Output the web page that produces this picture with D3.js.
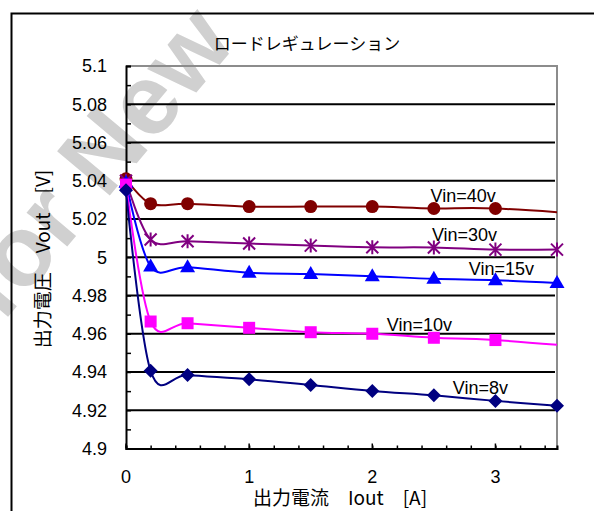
<!DOCTYPE html>
<html>
<head>
<meta charset="utf-8">
<script src="https://cdn.jsdelivr.net/npm/d3@7"></script>
<style>
  html, body { margin: 0; padding: 0; background: #fff; }
  svg { display: block; }
  text { font-family: "Liberation Sans", Arial, sans-serif; }
  .jp { font-family: "Noto Sans CJK JP", "Noto Sans", sans-serif; }
</style>
</head>
<body>
<div id="chart"></div>
<script>
// load current [A]
const currents = [0, 0.2, 0.5, 1, 1.5, 2, 2.5, 3, 3.5];
const currentsWide = [0, 0.2, 0.5, 1, 1.5, 2, 2.5, 3, 4];

// output voltage [V] per input voltage
const vin40 = [5.041, 5.028, 5.028, 5.0265, 5.0265, 5.0265, 5.0255, 5.0255, 5.0213];
const vin30 = [5.040, 5.0093, 5.0084, 5.0072, 5.0061, 5.0052, 5.0051, 5.004, 5.004];
const vin15 = [5.039, 4.9952, 4.9948, 4.9919, 4.9912, 4.9901, 4.9887, 4.988, 4.9866];
const vin10 = [5.038, 4.9664, 4.9655, 4.9631, 4.9608, 4.960, 4.9579, 4.9567, 4.9515];
const vin8 = [5.035, 4.9406, 4.9384, 4.9362, 4.9332, 4.9301, 4.9278, 4.9249, 4.9223];

const seriesNames = ['Vin=40v', 'Vin=30v', 'Vin=15v', 'Vin=10v', 'Vin=8v'];

const yTicks = [4.9, 4.92, 4.94, 4.96, 4.98, 5, 5.02, 5.04, 5.06, 5.08, 5.1];
const yTickLabels = ['4.9', '4.92', '4.94', '4.96', '4.98', '5', '5.02', '5.04', '5.06', '5.08', '5.1'];
const xTicks = [0, 1, 2, 3];
const xTickLabels = ['0', '1', '2', '3'];

const title = 'ロードレギュレーション';
const xTitle = '出力電流　Iout　[A]';
const yTitle = '出力電圧　Vout　[V]';

const W = 594, H = 511;
const svg = d3.select('#chart').append('svg').attr('width', W).attr('height', H);

// watermark from the source image
svg.append('text')
  .attr('transform', 'translate(2,324) rotate(-50)')
  .attr('font-family', '"Liberation Serif", serif')
  .attr('font-weight', 'bold')
  .attr('font-size', 100)
  .attr('fill', '#d0d0d0')
  .text('for New');

// outer frame
svg.append('rect')
  .attr('x', 11.5).attr('y', 13.5).attr('width', 620).attr('height', 540)
  .attr('fill', 'none').attr('stroke', '#000').attr('stroke-width', 2);

const x = d3.scaleLinear().domain([0, 3.5]).range([126, 557]);
const y = d3.scaleLinear().domain([4.9, 5.1]).range([448.5, 66]);

svg.append('defs').append('clipPath').attr('id', 'plot-clip')
  .append('rect')
  .attr('x', x(0) - 6).attr('y', 0)
  .attr('width', x(3.5) - x(0) + 6).attr('height', H);

// plot frame (grey top/right)
svg.append('path')
  .attr('d', `M${x(0)},${y(5.1)} H${x(3.5)} V${y(4.9)}`)
  .attr('fill', 'none').attr('stroke', '#8c8c8c').attr('stroke-width', 2);

// gridlines
svg.append('g')
  .selectAll('line')
  .data(yTicks.filter((v) => v > 4.9 && v < 5.1))
  .join('line')
  .attr('x1', x(0)).attr('x2', x(3.5) - 2)
  .attr('y1', (d) => y(d)).attr('y2', (d) => y(d))
  .attr('stroke', '#000').attr('stroke-width', 2);

// y axis with minor ticks pointing inward
const yAxis = d3.axisRight(y).tickValues(d3.range(4.9, 5.1001, 0.01)).tickSize(5).tickFormat('');
const gy = svg.append('g').attr('transform', `translate(${x(0)},0)`).call(yAxis);
gy.select('.domain').attr('stroke-width', 2);
gy.selectAll('.tick line').attr('stroke-width', 1.5);

svg.append('g')
  .selectAll('text')
  .data(yTicks)
  .join('text')
  .attr('x', 107).attr('y', (d) => y(d))
  .attr('dy', '0.36em')
  .attr('text-anchor', 'end')
  .attr('font-size', 18)
  .text((d, i) => yTickLabels[i]);

// x axis, minor ticks every 0.2 upward, major at integers
const gx = svg.append('g').attr('transform', `translate(0,${y(4.9)})`);
gx.call(d3.axisTop(x).tickValues(d3.range(0, 3.5, 0.2)).tickSize(3).tickFormat(''));
gx.select('.domain').attr('stroke-width', 2);
gx.selectAll('.tick line').attr('stroke-width', 1.5);
gx.append('g').selectAll('line').data(xTicks).join('line')
  .attr('x1', (d) => x(d)).attr('x2', (d) => x(d))
  .attr('y1', 0).attr('y2', -5)
  .attr('stroke', '#000').attr('stroke-width', 1.5);

svg.append('g')
  .selectAll('text')
  .data(xTicks)
  .join('text')
  .attr('x', (d) => x(d)).attr('y', 483)
  .attr('text-anchor', 'middle')
  .attr('font-size', 18)
  .text((d, i) => xTickLabels[i]);

// titles
svg.append('text').attr('class', 'jp')
  .attr('x', 307).attr('y', 50).attr('text-anchor', 'middle')
  .attr('font-size', 17).text(title);

svg.append('text').attr('class', 'jp')
  .attr('x', 340).attr('y', 505).attr('text-anchor', 'middle')
  .attr('font-size', 19).text(xTitle);

svg.append('text').attr('class', 'jp')
  .attr('transform', 'translate(50,259) rotate(-90)')
  .attr('text-anchor', 'middle')
  .attr('font-size', 19).text(yTitle);

// series
const series = [
  { name: seriesNames[0], xs: currentsWide, ys: vin40, color: '#800000', marker: 'circle', label: [2.473, 5.029] },
  { name: seriesNames[1], xs: currents, ys: vin30, color: '#800080', marker: 'star', label: [2.484, 5.0085] },
  { name: seriesNames[2], xs: currents, ys: vin15, color: '#0000ff', marker: 'triangle', label: [2.784, 4.9907] },
  { name: seriesNames[3], xs: currentsWide, ys: vin10, color: '#ff00ff', marker: 'square', label: [2.118, 4.9614] },
  { name: seriesNames[4], xs: currents, ys: vin8, color: '#000080', marker: 'diamond', label: [2.654, 4.9283] },
];

const line = d3.line()
  .x((d) => x(d[0]))
  .y((d) => y(d[1]))
  .curve(d3.curveCatmullRom.alpha(0));

const lineLayer = svg.append('g').attr('clip-path', 'url(#plot-clip)');
const markerLayer = svg.append('g');

series.forEach((s) => {
  const pts = s.xs.map((xv, i) => [xv, s.ys[i]]);
  lineLayer.append('path')
    .attr('d', line(pts))
    .attr('fill', 'none')
    .attr('stroke', s.color)
    .attr('stroke-width', 2);

  const visible = pts.filter((p) => p[0] <= 3.5);
  const g = markerLayer.append('g');
  visible.forEach((p) => {
    const cx = x(p[0]);
    const cy = y(p[1]);
    if (s.marker === 'circle') {
      g.append('circle').attr('cx', cx).attr('cy', cy).attr('r', 6.5).attr('fill', s.color);
    } else if (s.marker === 'triangle') {
      g.append('path').attr('d', `M${cx},${cy - 8} L${cx + 7.5},${cy + 5} L${cx - 7.5},${cy + 5} Z`).attr('fill', s.color);
    } else if (s.marker === 'square') {
      g.append('rect').attr('x', cx - 6).attr('y', cy - 6).attr('width', 12).attr('height', 12).attr('fill', s.color);
    } else if (s.marker === 'diamond') {
      g.append('path').attr('d', `M${cx},${cy - 7} L${cx + 7},${cy} L${cx},${cy + 7} L${cx - 7},${cy} Z`).attr('fill', s.color);
    } else if (s.marker === 'star') {
      const r = 6;
      g.append('path')
        .attr('d', `M${cx - r},${cy - r} L${cx + r},${cy + r} M${cx - r},${cy + r} L${cx + r},${cy - r} M${cx},${cy - r - 1} L${cx},${cy + r + 1}`)
        .attr('stroke', s.color).attr('stroke-width', 2).attr('fill', 'none');
    }
  });

  svg.append('text')
    .attr('x', x(s.label[0])).attr('y', y(s.label[1]))
    .attr('font-size', 18)
    .text(s.name);
});
</script>
</body>
</html>
